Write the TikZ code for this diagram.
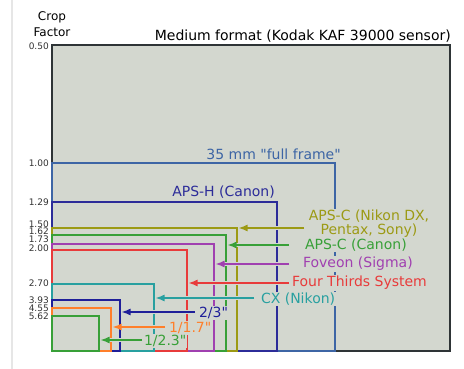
\documentclass[tikz,border=0pt]{standalone}
\usepackage{fontspec}
\setmainfont{DejaVu Sans}[Ligatures=TeXOff]
\usetikzlibrary{arrows.meta}
\definecolor{bgc}{HTML}{D3D7CF}
\definecolor{framec}{HTML}{2E3436}
\definecolor{ffc}{HTML}{3D65A5}
\definecolor{apshc}{HTML}{2C2C99}
\definecolor{olivec}{HTML}{9C9A14}
\definecolor{greenc}{HTML}{38A038}
\definecolor{magc}{HTML}{A040B0}
\definecolor{redc}{HTML}{E83B3B}
\definecolor{tealc}{HTML}{28A0A0}
\definecolor{navyc}{HTML}{1F1F99}
\definecolor{orangec}{HTML}{FF7F2A}
\definecolor{tickc}{HTML}{333333}
\definecolor{edgec}{HTML}{E6E6E6}
\begin{document}
\begin{tikzpicture}[x=1pt,y=-1pt,
  sensor/.style={line width=1.5pt},
  arr/.style={line width=1.5pt, -{Latex[length=9pt,width=7pt]},
    preaction={draw=bgc, line width=4pt, -}},
  lbl/.style={font=\fontsize{14}{14}\selectfont, inner sep=0pt},
  halo/.style={fill=bgc, inner sep=0.8pt},
  ticklbl/.style={font=\fontsize{9}{9}\selectfont, anchor=east, inner sep=0pt,
    text height=6.2pt, text depth=0pt, text=tickc},
]
\useasboundingbox (0,0) rectangle (464,369);
\fill[white] (0,0) rectangle (464,369);
\draw[edgec, line width=1.5pt] (12,0) -- (12,369);

% sensors, largest first
\draw[sensor, draw=framec, fill=bgc, line width=1.8pt] (52,351) rectangle (450,45);
\draw[sensor, ffc] (52,351) rectangle (335,163);
\draw[sensor, apshc] (52,351) rectangle (277,202);
\draw[sensor, olivec] (52,351) rectangle (237,228);
\draw[sensor, greenc] (52,351) rectangle (226,235);
\draw[sensor, magc] (52,351) rectangle (214,244);
\draw[sensor, redc] (52,351) rectangle (187,250);
\draw[sensor, tealc] (52,351) rectangle (154,284);
\draw[sensor, navyc] (52,351) rectangle (120,300);
\draw[sensor, orangec] (52,351) rectangle (111,308);
\draw[sensor, greenc] (52,351) rectangle (99,316);

% tick labels
\node[ticklbl] (t050) at (49,46) {0.50};
\node[ticklbl] (t100) at (49,163) {1.00};
\node[ticklbl] (t129) at (49,202) {1.29};
\node[ticklbl] (t150) at (49,224) {1.50};
\node[ticklbl] (t162) at (49,231.5) {1.62};
\node[ticklbl] (t173) at (49,239) {1.73};
\node[ticklbl] (t200) at (49,248) {2.00};
\node[ticklbl] (t270) at (49,283) {2.70};
\node[ticklbl] (t393) at (49,300) {3.93};
\node[ticklbl] (t455) at (49,308) {4.55};
\node[ticklbl] (t562) at (49,316) {5.62};

% headings
\node[font=\fontsize{12}{16}\selectfont, align=center, inner sep=0pt] (cf) at (52,24) {Crop\\Factor};
\node[lbl, anchor=east] (title) at (451,36) {Medium format (Kodak KAF 39000 sensor)};
\node[lbl, anchor=east, text=ffc] (ff) at (341,154) {35 mm "full frame"};
\node[lbl, anchor=east, text=apshc] (apsh) at (275,192) {APS-H (Canon)};

% arrow ends
\coordinate (oS) at (304,228); \coordinate (oT) at (238.5,228);
\coordinate (gS) at (289,245); \coordinate (gT) at (227.5,245);
\coordinate (mS) at (289,264); \coordinate (mT) at (215.5,264);
\coordinate (rS) at (289,283); \coordinate (rT) at (188.5,283);
\coordinate (cS) at (254,298); \coordinate (cT) at (155.5,298);
\coordinate (nS) at (195,312); \coordinate (nT) at (121.5,312);
\coordinate (pS) at (165,327); \coordinate (pT) at (112.5,327);
\coordinate (sS) at (142,340); \coordinate (sT) at (100.5,340);

\draw[arr, olivec] (oS) -- (oT);
\draw[arr, greenc] (gS) -- (gT);
\draw[arr, magc] (mS) -- (mT);
\draw[arr, redc] (rS) -- (rT);
\draw[arr, tealc] (cS) -- (cT);
\draw[arr, navyc] (nS) -- (nT);
\draw[arr, orangec] (pS) -- (pT);
\draw[arr, greenc] (sS) -- (sT);

% labels
\node[lbl, halo, align=center, text=olivec] (lo) at (369,224) {APS-C (Nikon DX,\\Pentax, Sony)};
\node[lbl, halo, anchor=west, text=greenc] (lg) at (304,245) {APS-C (Canon)};
\node[lbl, halo, anchor=west, text=magc] (lm) at (302,264) {Foveon (Sigma)};
\node[lbl, halo, anchor=west, text=redc] (lr) at (291,283) {Four Thirds System};
\node[lbl, halo, anchor=west, text=tealc] (lc) at (260,299) {CX (Nikon)};
\node[lbl, halo, anchor=west, text=navyc] (ln) at (198,313) {2/3"};
\node[lbl, halo, anchor=west, text=orangec] (lp) at (168,328) {1/1.7"};
\node[lbl, halo, anchor=west, text=greenc] (ls) at (143,341) {1/2.3"};
\end{tikzpicture}
\end{document}
